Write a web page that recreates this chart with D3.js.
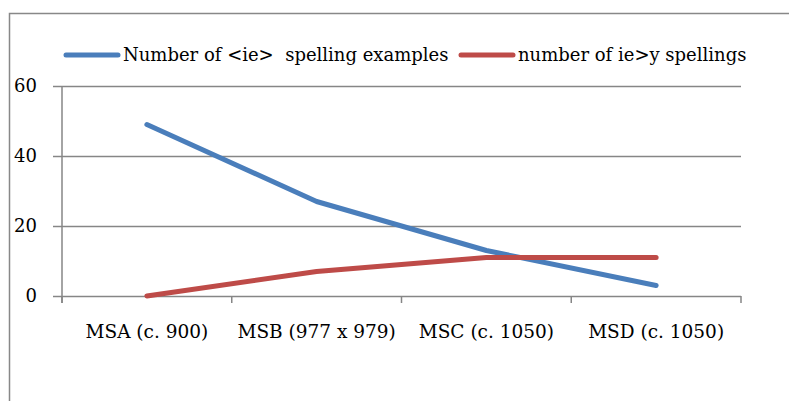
<!DOCTYPE html>
<html>
<head>
<meta charset="utf-8">
<script src="https://cdn.jsdelivr.net/npm/d3@7"></script>
<style>
  body { margin: 0; background: #fff; }
</style>
</head>
<body>
<div id="chart"></div>
<script>
const categories = ["MSA (c. 900)", "MSB (977 x 979)", "MSC (c. 1050)", "MSD (c. 1050)"];
const ieExamples = [49, 27, 13, 3];
const ieToY = [0, 7, 11, 11];
const yTicks = [0, 20, 40, 60];
const seriesNames = ["Number of <ie>  spelling examples", "number of ie>y spellings"];

const FONT = "'DejaVu Serif', serif";

function getColor(i) {
    const colors = ["#4a7ebb", "#be4b48"];
    return colors[i] || "#999";
}

const width = 789, height = 401;
const margin = { top: 86, right: 48, bottom: 105, left: 62 };

const svg = d3.select("#chart").append("svg")
    .attr("width", width)
    .attr("height", height)
    .attr("font-family", FONT);

// cadre du graphique
svg.append("rect")
    .attr("x", 9.5).attr("y", 13.5)
    .attr("width", 800).attr("height", 420)
    .attr("fill", "none")
    .attr("stroke", "#888").attr("stroke-width", 1.5);

const x = d3.scaleBand()
    .domain(categories)
    .range([margin.left, width - margin.right]);

const y = d3.scaleLinear()
    .domain([0, 60])
    .range([height - margin.bottom, margin.top]);

// grille horizontale + etiquettes
const yAxis = svg.append("g")
    .attr("transform", `translate(${margin.left},0)`)
    .call(d3.axisLeft(y)
        .tickValues(yTicks)
        .tickSize(-(width - margin.left - margin.right))
        .tickPadding(25));
yAxis.selectAll(".domain").remove();
yAxis.selectAll("line")
    .attr("x1", -9)
    .attr("stroke", "#868686").attr("stroke-width", 1.5);
yAxis.selectAll("text")
    .attr("font-family", FONT).attr("fill", "#000")
    .attr("font-size", "18px").attr("dy", "0.32em");

// axe vertical
svg.append("line")
    .attr("x1", margin.left).attr("x2", margin.left)
    .attr("y1", y(60)).attr("y2", y(0) + 7)
    .attr("stroke", "#868686").attr("stroke-width", 1.5);

// axe X
const xAxis = svg.append("g")
    .attr("transform", `translate(0,${y(0)})`)
    .call(d3.axisBottom(x).tickSize(0).tickPadding(29));
xAxis.selectAll(".domain").remove();
xAxis.selectAll("text")
    .attr("font-family", FONT).attr("fill", "#000")
    .attr("font-size", "18.5px");

const bounds = categories.map(c => x(c)).concat([x(categories[categories.length - 1]) + x.bandwidth()]);
xAxis.selectAll("line.sep")
    .data(bounds)
    .enter().append("line")
    .attr("class", "sep")
    .attr("x1", d => d).attr("x2", d => d)
    .attr("y1", 0).attr("y2", 7)
    .attr("stroke", "#868686").attr("stroke-width", 1.5);

// lignes
const line = d3.line()
    .x((d, i) => x(categories[i]) + x.bandwidth() / 2)
    .y(d => y(d));

[ieExamples, ieToY].forEach((values, i) => {
    svg.append("path")
        .datum(values)
        .attr("d", line)
        .attr("fill", "none")
        .attr("stroke", getColor(i))
        .attr("stroke-width", 5)
        .attr("stroke-linecap", "round")
        .attr("stroke-linejoin", "round");
});

// legende
const legendX = [66, 461];
const legend = svg.append("g");
seriesNames.forEach((name, i) => {
    legend.append("line")
        .attr("x1", legendX[i]).attr("x2", legendX[i] + 52)
        .attr("y1", 55).attr("y2", 55)
        .attr("stroke", getColor(i))
        .attr("stroke-width", 5)
        .attr("stroke-linecap", "round");
    legend.append("text")
        .attr("x", legendX[i] + 57)
        .attr("y", 55)
        .attr("dy", "0.32em")
        .attr("font-family", FONT).attr("fill", "#000")
        .attr("font-size", "18px")
        .attr("xml:space", "preserve")
        .style("white-space", "pre")
        .text(name);
});
</script>
</body>
</html>
